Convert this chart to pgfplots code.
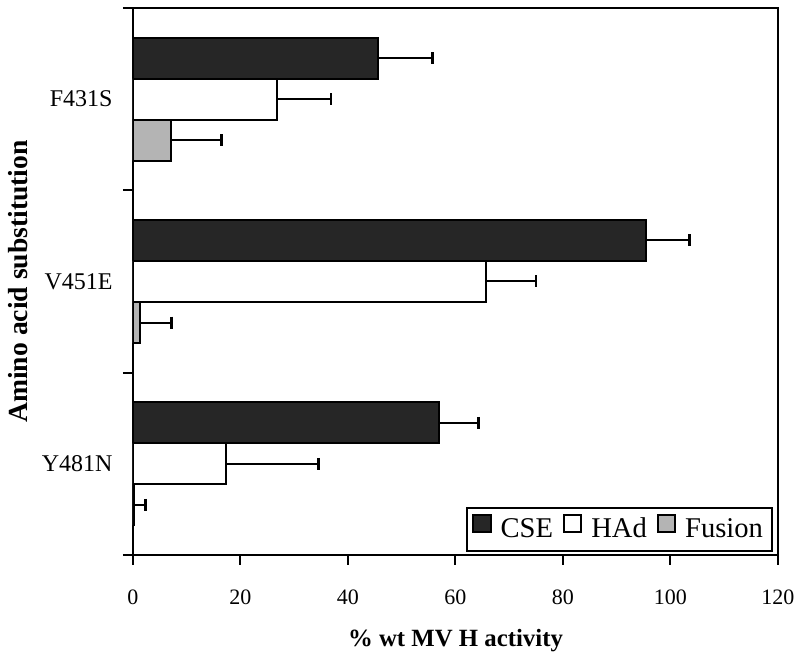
\documentclass[border=0pt]{standalone}
\usepackage{pgfplots}
\pgfplotsset{compat=1.18}
\usepackage{fontspec}
\setmainfont{Liberation Serif}
\definecolor{cse}{HTML}{262626}
\definecolor{fus}{HTML}{B4B4B4}
\begin{document}
\begin{tikzpicture}
\begin{axis}[
  name=ax,
  scale only axis,
  width=322.5pt, height=273.5pt,
  xbar, bar width=0.225,
  xmin=0, xmax=120,
  ymin=-0.5, ymax=2.5,
  y dir=reverse,
  xtick={0,20,...,120},
  ytick={0,1,2},
  yticklabels={F431S,V451E,Y481N},
  minor ytick={-0.5,0.5,1.5,2.5},
  major y tick style={draw=none},
  tick align=outside,
  tick pos=left,
  major tick length=5pt,
  minor tick length=5pt,
  every tick/.style={black, line width=1pt},
  axis line style={line width=1pt},
  /pgf/number format/assume math mode=true,
  xticklabel style={font=\fontsize{11}{13}\selectfont, yshift=-9pt},
  yticklabel style={font=\fontsize{12}{14}\selectfont, xshift=-1.7pt},
  xlabel={\% wt MV H activity},
  ylabel={Amino acid substitution},
  xlabel style={font=\bfseries\fontsize{12.4}{14}\selectfont, at={(axis description cs:0.5,0)}, anchor=base, yshift=-45.8pt},
  ylabel style={font=\bfseries\fontsize{13.8}{16}\selectfont, at={(axis description cs:-0.1783,0.5)}, anchor=center},
  legend columns=-1,
  legend style={at={(axis description cs:1,0)}, anchor=south east, xshift=-2.5pt, yshift=1.5pt,
    draw=black, line width=1pt, font=\fontsize{14.3}{16}\selectfont,
    inner xsep=2.5pt, inner ysep=3pt,
    /tikz/every even column/.append style={column sep=2.8pt},
    /tikz/every odd column/.append style={column sep=2.5pt}},
  legend image code/.code={\draw[#1,/tikz/.cd,line width=1pt,yshift=0.3em] (0pt,-4.3pt) rectangle (8.8pt,4.3pt);},
  error bars/x dir=plus,
  error bars/x explicit,
  error bars/error bar style={line width=1pt, black},
  error bars/error mark options={line width=1.2pt, mark size=3pt, black, rotate=90},
]
\addplot[fill=cse, draw=black, line width=1pt, bar shift=-0.225] coordinates {
  (45.5,0) +- (10.2,0)
  (95.5,1) +- (8.0,0)
  (57.0,2) +- (7.3,0)
};
\addplot[fill=white, draw=black, line width=1pt, bar shift=0] coordinates {
  (26.7,0) +- (10.1,0)
  (65.6,1) +- (9.4,0)
  (17.3,2) +- (17.2,0)
};
\addplot[fill=fus, draw=black, line width=1pt, bar shift=0.225] coordinates {
  (7.0,0) +- (9.5,0)
  (1.3,1) +- (5.9,0)
  (0.2,2) +- (2.1,0)
};
\legend{CSE,HAd,Fusion}
\end{axis}
\pgfresetboundingbox
\path[use as bounding box] ([shift={(-66.5pt,-50.5pt)}]ax.south west) rectangle ([shift={(11pt,4pt)}]ax.north east);
\end{tikzpicture}
\end{document}
